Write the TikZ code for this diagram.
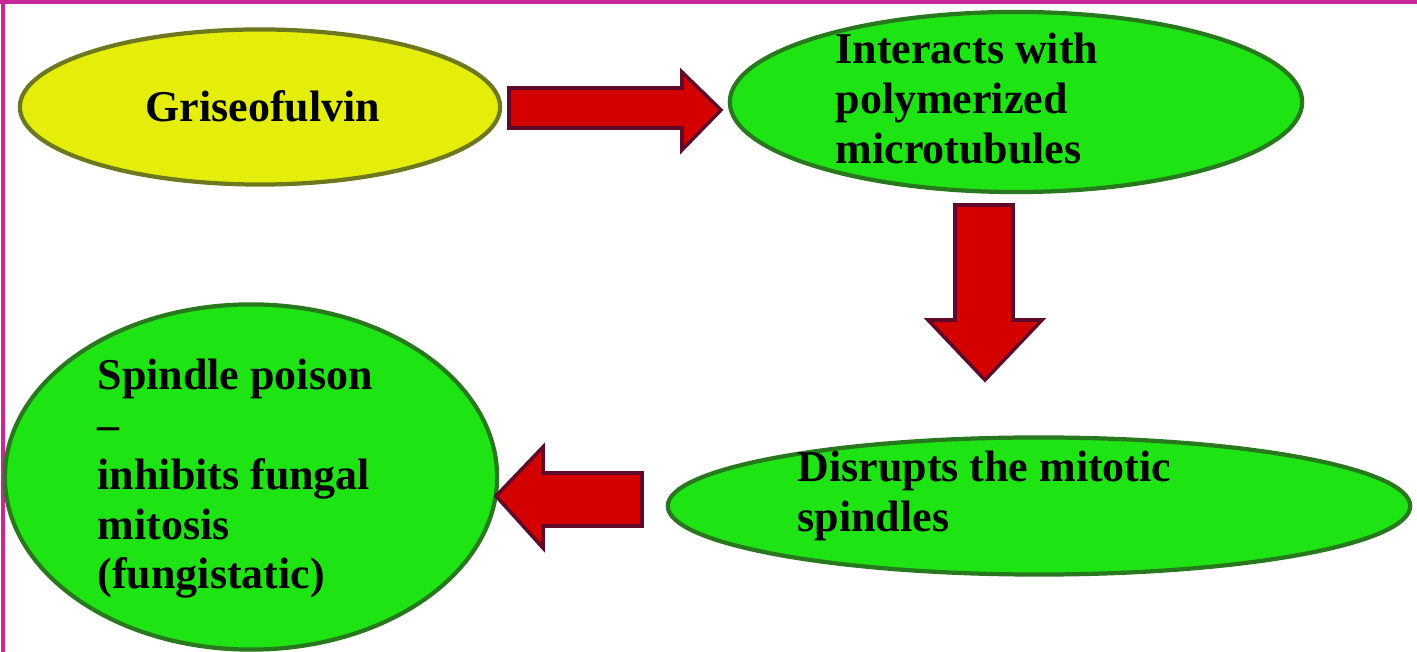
\documentclass[tikz,border=0pt]{standalone}
\usepackage{fontspec}
\setmainfont{Liberation Serif}
\usetikzlibrary{shapes.geometric}
\definecolor{yelfill}{RGB}{228,238,10}
\definecolor{yelline}{RGB}{110,120,30}
\definecolor{grnfill}{RGB}{30,228,20}
\definecolor{grnline}{RGB}{40,120,30}
\definecolor{arrfill}{RGB}{212,0,0}
\definecolor{arrline}{RGB}{95,10,40}
\definecolor{frame}{RGB}{200,40,150}
\tikzset{
  blob/.style={ellipse, draw=#1line, fill=#1fill, line width=1.2pt, inner sep=0pt},
  label/.style={font=\bfseries\fontsize{12.5}{14.2}\selectfont, align=left, inner sep=0pt, text=black},
  blockarrow/.style={fill=arrfill, draw=arrline, line width=1pt, line join=miter}
}
\begin{document}
\begin{tikzpicture}[x=0.01cm, y=-0.01cm]
\useasboundingbox (0,0) rectangle (1417,652);
\fill[white] (0,0) rectangle (1417,652);
\draw[frame, line width=1.2pt] (3,0) -- (3,652);
\draw[frame, line width=1pt] (0,2) -- (1417,2);
% ellipses
\node[blob=yel, minimum width=4.8cm, minimum height=1.55cm] (gris) at (260,107) {};
\node[blob=grn, minimum width=5.72cm, minimum height=1.8cm] (inter) at (1016,102) {};
\node[blob=grn, minimum width=7.42cm, minimum height=1.37cm] (disr) at (1039,506) {};
\node[blob=grn, minimum width=4.92cm, minimum height=3.45cm] (spin) at (251,477) {};
% texts
\node[label, anchor=base west] (tgris) at (145,122) {Griseofulvin};
\node[label, anchor=north west] (tinter) at (835,32) {Interacts with\\polymerized\\microtubules};
\node[label, anchor=north west] (tdisr) at (797,450) {Disrupts the mitotic\\spindles};
\node[label, anchor=north west] (tspin) at (97,358) {Spindle poison\\--\\inhibits fungal\\mitosis\\(fungistatic)};
% block arrows
\draw[blockarrow] (509,88) -- (682,88) -- (682,72) -- (721,110) -- (682,150) -- (682,128) -- (509,128) -- cycle;
\draw[blockarrow] (955,205) -- (1013,205) -- (1013,320) -- (1042,320) -- (985,380) -- (928,320) -- (955,320) -- cycle;
\draw[blockarrow] (642,473) -- (543,473) -- (543,447) -- (496,496) -- (543,548) -- (543,526) -- (642,526) -- cycle;
\end{tikzpicture}
\end{document}
